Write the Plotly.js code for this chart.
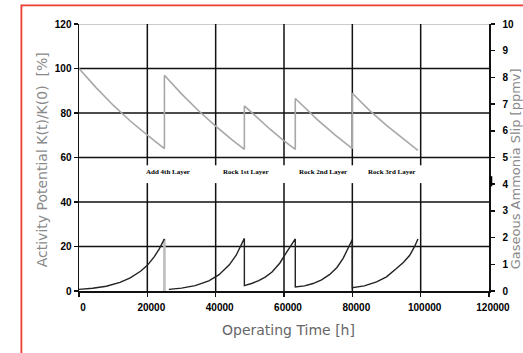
<!DOCTYPE html>
<html>
<head>
<meta charset="utf-8">
<script src="https://cdn.plot.ly/plotly-3.0.1.min.js"></script>
<style>
  html, body { margin: 0; padding: 0; background: #fff; }
  #chart { width: 523px; height: 353px; }
</style>
</head>
<body>
<div id="chart"></div>
<script>
// Catalyst activity potential (left axis, %) over operating time
const activityTime = [0, 5000, 10000, 15000, 20000, 25000,
  25000, 30000, 35000, 40000, 45000, 48400,
  48400, 52000, 56000, 60000, 63300,
  63300, 67000, 70000, 75000, 80000,
  80000, 85000, 90000, 95000, 99200];
const activityPct = [100, 91.4, 83.5, 76.4, 70.1, 64.0,
  97.0, 88.6, 81.0, 74.1, 67.7, 63.7,
  83.2, 78.0, 72.6, 67.5, 63.6,
  86.5, 80.9, 76.7, 70.1, 64.0,
  88.9, 81.2, 74.4, 68.1, 63.2];

// Gaseous ammonia slip (right axis, ppmv)
const slipTime = [0, 4000, 8000, 12000, 15000, 18000, 20000, 22000, 23500, 25000, null,
  26300, 30000, 34000, 38000, 41000, 44000, 46000, 47500, 48400,
  48400, 50500, 52600, 54500, 56500, 58800, 60400, 62000, 63300,
  63300, 66000, 68500, 71000, 73400, 75500, 77300, 78800, 80000,
  80000, 83500, 87100, 90000, 92900, 95000, 96800, 98200, 99200];
const slipPpm = [0.06, 0.105, 0.18, 0.32, 0.49, 0.74, 0.96, 1.28, 1.58, 1.95, null,
  0.06, 0.107, 0.2, 0.38, 0.61, 0.98, 1.34, 1.7, 1.97,
  0.2, 0.28, 0.39, 0.52, 0.71, 1.05, 1.38, 1.7, 1.95,
  0.15, 0.19, 0.28, 0.42, 0.62, 0.88, 1.22, 1.6, 1.93,
  0.12, 0.19, 0.34, 0.53, 0.84, 1.08, 1.34, 1.66, 1.95];

// First reset drawn in light grey
const slipResetTime = [25000, 25000];
const slipResetPpm = [1.95, 0];

// Maintenance events
const eventTime = [20000, 40000, 60000, 80000, 100000];
const eventLabels = ['Add 4th Layer', 'Rock 1st Layer', 'Rock 2nd Layer', 'Rock 3rd Layer'];
const eventLabelTime = [26000, 48750, 71450, 91470];
const eventLabelLevel = 53.7;
const eventLineGap = [48.5, 56.5];

// Axes
const xTicks = [0, 20000, 40000, 60000, 80000, 100000, 120000];
const xTickText = ['0', '20000', '40000', '60000', '80000', '100000', '120000'];
const yGrid = [20, 40, 60, 80, 100];

const black = '#111';
const tickFont = { family: '"Liberation Sans", Arial, sans-serif', size: 10, color: '#000', weight: 'bold' };
const titleFont = { family: '"DejaVu Sans", sans-serif', size: 14, color: '#8a8a8a' };

const shapes = [];
yGrid.forEach(v => shapes.push({
  type: 'line', layer: 'below', xref: 'paper', yref: 'y',
  x0: 0, x1: 1, y0: v, y1: v, line: { color: black, width: 1.5 }
}));
shapes.push({
  type: 'line', layer: 'below', xref: 'paper', yref: 'y',
  x0: 0, x1: 1, y0: 120, y1: 120, line: { color: '#9a9a9a', width: 1.2 }
});
eventTime.forEach(t => {
  shapes.push({ type: 'line', layer: 'below', xref: 'x', yref: 'y',
    x0: t, x1: t, y0: eventLineGap[1], y1: 120, line: { color: black, width: 1.5 } });
  shapes.push({ type: 'line', layer: 'below', xref: 'x', yref: 'y',
    x0: t, x1: t, y0: 0, y1: eventLineGap[0], line: { color: black, width: 1.5 } });
});
// small marker on the right axis
shapes.push({ type: 'rect', xref: 'paper', yref: 'y2',
  x0: 1.002, x1: 1.008, y0: 3.92, y1: 4.3, line: { width: 0 }, fillcolor: '#000' });
// frame
shapes.push({ type: 'rect', xref: 'paper', yref: 'paper',
  x0: -0.1405, x1: 1.3, y0: -0.5, y1: 1.0697, line: { color: '#ee3d33', width: 1.8 } });

const annotations = eventLabels.map((txt, i) => ({
  x: eventLabelTime[i], y: eventLabelLevel, xref: 'x', yref: 'y',
  text: txt, showarrow: false,
  font: { family: '"Liberation Serif", serif', size: 7, color: '#000', weight: 'bold' }
}));
annotations.push({
  xref: 'paper', yref: 'paper', x: -0.0917, y: 0.491, xanchor: 'center', yanchor: 'middle',
  text: 'Activity Potential K(t)/K(0)  [%]', textangle: -90, showarrow: false, font: titleFont
});
annotations.push({
  xref: 'paper', yref: 'paper', x: 0.511, y: -0.146, xanchor: 'center', yanchor: 'middle',
  text: 'Operating Time [h]', showarrow: false,
  font: { family: '"DejaVu Sans", sans-serif', size: 14, color: '#666' }
});
annotations.push({
  xref: 'paper', yref: 'paper', x: 1.0655, y: 0.459, xanchor: 'center', yanchor: 'middle',
  text: 'Gaseous Ammonia Slip [ppmv]', textangle: -90, showarrow: false,
  font: { family: '"DejaVu Sans", sans-serif', size: 13, color: '#8a8a8a' }
});

const traces = [
  { x: activityTime, y: activityPct, type: 'scatter', mode: 'lines', yaxis: 'y',
    line: { color: '#a8a8a8', width: 1.6 }, hoverinfo: 'skip' },
  { x: slipResetTime, y: slipResetPpm, type: 'scatter', mode: 'lines', yaxis: 'y2',
    line: { color: '#bdbdbd', width: 2.6 }, hoverinfo: 'skip' },
  { x: slipTime, y: slipPpm, type: 'scatter', mode: 'lines', yaxis: 'y2',
    line: { color: '#222', width: 1.4 }, connectgaps: false, hoverinfo: 'skip' }
];

const layout = {
  width: 523, height: 353,
  margin: { l: 79, r: 34, t: 24, b: 62 },
  paper_bgcolor: '#fff', plot_bgcolor: '#fff',
  showlegend: false,
  xaxis: {
    range: [0, 120000], tickvals: xTicks, ticktext: xTickText,
    showgrid: false, zeroline: false,
    showline: true, linecolor: black, linewidth: 1.5,
    ticks: 'outside', ticklen: 4, tickwidth: 1.5, tickcolor: black,
    tickfont: tickFont, ticklabelshift: 4, ticklabelstandoff: 2
  },
  yaxis: {
    range: [0, 120], dtick: 20, showgrid: false, zeroline: false,
    showline: true, linecolor: black, linewidth: 1.5,
    ticks: 'outside', ticklen: 4, tickwidth: 1.5, tickcolor: black,
    tickfont: tickFont, ticklabelstandoff: 0
  },
  yaxis2: {
    range: [0, 10], dtick: 1, overlaying: 'y', side: 'right',
    showgrid: false, zeroline: false,
    showline: true, linecolor: black, linewidth: 1.5,
    ticks: 'outside', ticklen: 4, tickwidth: 1.5, tickcolor: black,
    tickfont: tickFont, ticklabelstandoff: 6
  },
  yaxis3: {
    range: [0, 10], dtick: 1, overlaying: 'y', side: 'right',
    showgrid: false, zeroline: false, showline: false, showticklabels: false,
    ticks: 'inside', ticklen: 3, tickwidth: 1.5, tickcolor: black
  },
  shapes: shapes,
  annotations: annotations
};

Plotly.newPlot('chart', traces, layout, { staticPlot: true, displayModeBar: false });
</script>
</body>
</html>
